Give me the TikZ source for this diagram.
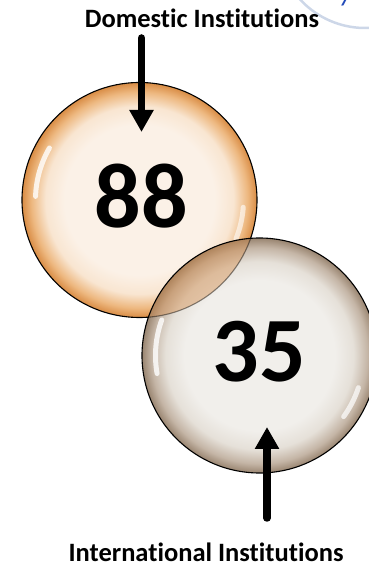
\documentclass[tikz,border=0pt]{standalone}
\usepackage{fontspec}
\setmainfont{Carlito}[Ligatures=NoCommon]
\usetikzlibrary{arrows.meta}
\pgfdeclareradialshading{ballA}{\pgfpoint{0bp}{0bp}}{%
 rgb(0bp)=(0.985,0.945,0.905); rgb(16bp)=(0.985,0.945,0.905);
 rgb(20bp)=(0.975,0.9,0.82); rgb(23bp)=(0.93,0.72,0.5);
 rgb(25bp)=(0.85,0.55,0.27); rgb(50bp)=(0.85,0.55,0.27)}
\pgfdeclareradialshading{ballB}{\pgfpoint{0bp}{0bp}}{%
 rgb(0bp)=(0.945,0.937,0.922); rgb(16bp)=(0.945,0.937,0.922);
 rgb(20bp)=(0.9,0.88,0.85); rgb(23bp)=(0.77,0.71,0.65);
 rgb(25bp)=(0.6,0.52,0.44); rgb(50bp)=(0.6,0.52,0.44)}
\definecolor{tintA}{rgb}{0.82,0.52,0.25}
\definecolor{rimblue}{RGB}{205,215,232}
\definecolor{txtblue}{RGB}{35,75,185}
\begin{document}
\begin{tikzpicture}[x=1pt,y=1pt,
  ball/.style={circle,minimum size=235pt,inner sep=0pt,draw=black,line width=1.1pt},
  num/.style={font=\fontsize{92}{92}\selectfont\bfseries,inner sep=0pt},
  lbl/.style={font=\fontsize{26.5}{26.5}\selectfont\bfseries,inner sep=0pt,anchor=base},
  gloss/.style={white,line width=5pt,opacity=0.8,line cap=round},
  arr/.style={line width=7.5pt,line cap=round,-{Triangle[length=22pt,width=23pt]}}]
\useasboundingbox (0,0) rectangle (369,567);
% top-right fragment
\begin{scope}
\clip (0,0) rectangle (369,567);
\draw[rimblue,line width=2.5pt] (365,627) ++(210:88pt) arc[start angle=210,end angle=300,radius=88pt];
\node[font=\fontsize{28}{28}\selectfont\itshape,text=txtblue,anchor=base,inner sep=0pt] (frag) at (346,565) {y};
\end{scope}
% circle 1
\node[ball,shade,shading=ballA] (c1) at (139.5,367) {};
\draw[gloss] (c1.center) ++(150:104pt) arc[start angle=150,end angle=178,radius=104pt];
\draw[gloss,opacity=0.6] (c1.center) ++(-4:104pt) arc[start angle=-4,end angle=-22,radius=104pt];
% circle 2
\node[ball,shade,shading=ballB,draw=none] (c2) at (259.5,211.5) {};
\begin{scope}
\clip (259.5,211.5) circle (117.5pt);
\fill[tintA,opacity=0.4] (139.5,367) circle (117.5pt);
\draw[black,opacity=0.45,line width=1.1pt] (139.5,367) circle (117.5pt);
\end{scope}
\draw[gloss] (c2.center) ++(160:104pt) arc[start angle=160,end angle=190,radius=104pt];
\draw[gloss,opacity=0.7] (c2.center) ++(-18:104pt) arc[start angle=-18,end angle=-36,radius=104pt];
\draw[black,line width=1.1pt] (c2) circle (117.5pt);
% numbers
\node[num] (n1) at (141,371) {88};
\node[num] (n2) at (259,215) {35};
% labels
\node[lbl] (dom) at (202,539) {Domestic Institutions};
\node[lbl] (intl) at (206,5.5) {International Institutions};
% arrows
\coordinate (a1s) at (141.5,529);
\coordinate (a1t) at (141.5,435);
\coordinate (a2s) at (267,49);
\coordinate (a2t) at (267,140);
\draw[arr] (a1s) -- (a1t);
\draw[arr] (a2s) -- (a2t);
\end{tikzpicture}
\end{document}
